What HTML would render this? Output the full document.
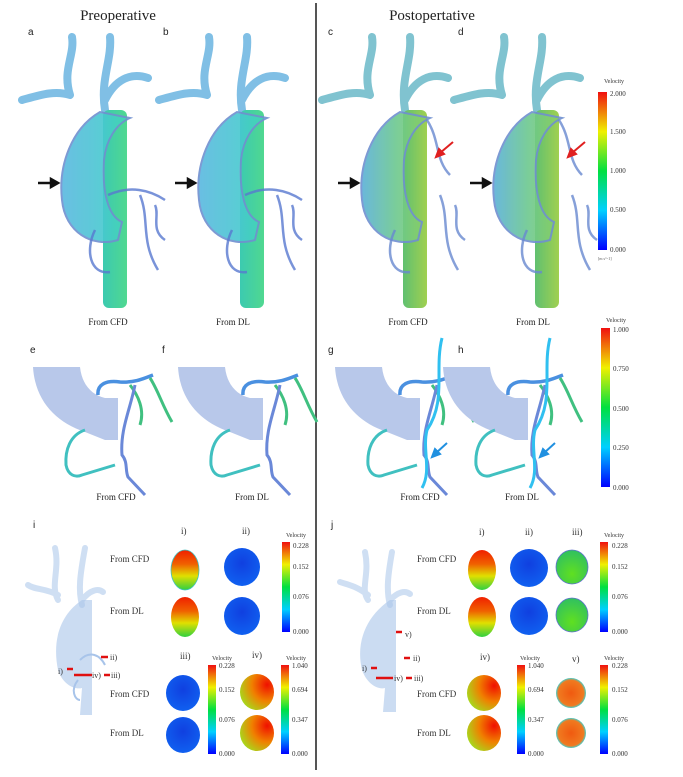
<!DOCTYPE html>
<html><head><meta charset="utf-8"><style>
html,body{margin:0;padding:0;background:#fff;}
svg{display:block;font-family:"Liberation Serif",serif;}
</style></head><body>
<svg width="683" height="777" viewBox="0 0 683 777" xmlns="http://www.w3.org/2000/svg">
<defs>
<linearGradient id="cb" x1="0" y1="1" x2="0" y2="0">
<stop offset="0" stop-color="#0000ff"/><stop offset="0.25" stop-color="#00d0ff"/><stop offset="0.5" stop-color="#00e040"/><stop offset="0.75" stop-color="#f0f000"/><stop offset="1" stop-color="#f01010"/></linearGradient>
<linearGradient id="preB" x1="0" y1="0" x2="1" y2="0"><stop offset="0" stop-color="#5ab8e0"/><stop offset="0.6" stop-color="#48c8d0"/><stop offset="1" stop-color="#40d8b0"/></linearGradient>
<linearGradient id="postB" x1="0" y1="0" x2="1" y2="0"><stop offset="0" stop-color="#5ab0d8"/><stop offset="0.5" stop-color="#6cc890"/><stop offset="1" stop-color="#8cd060"/></linearGradient>
<linearGradient id="tubeP" x1="0" y1="0" x2="1" y2="0"><stop offset="0" stop-color="#3ccab0"/><stop offset="1" stop-color="#50d890"/></linearGradient>
<linearGradient id="tubeQ" x1="0" y1="0" x2="1" y2="0"><stop offset="0" stop-color="#60c070"/><stop offset="1" stop-color="#a0d050"/></linearGradient>
<linearGradient id="sec1" x1="0" y1="0" x2="0" y2="1"><stop offset="0" stop-color="#f02000"/><stop offset="0.35" stop-color="#f06000"/><stop offset="0.65" stop-color="#e0e000"/><stop offset="1" stop-color="#30d040"/></linearGradient>
<radialGradient id="sec2" cx="0.5" cy="0.4" r="0.6"><stop offset="0" stop-color="#1040e0"/><stop offset="1" stop-color="#1060f0"/></radialGradient>
<radialGradient id="sec3" cx="0.5" cy="0.7" r="0.7"><stop offset="0" stop-color="#60e020"/><stop offset="1" stop-color="#30c060"/></radialGradient>
<radialGradient id="sec4" cx="0.8" cy="0.3" r="0.9"><stop offset="0" stop-color="#f01000"/><stop offset="0.5" stop-color="#f08000"/><stop offset="1" stop-color="#a0e020"/></radialGradient>
<radialGradient id="sec5" cx="0.5" cy="0.5" r="0.5"><stop offset="0" stop-color="#f05a10"/><stop offset="0.85" stop-color="#f07a20"/><stop offset="1" stop-color="#40d0d0"/></radialGradient>
<g id="aoPre">
<path d="M72,37 C75,55 62,70 70,95 M70,95 C55,90 40,95 22,100 M110,37 C112,60 100,80 105,110 M105,100 C115,80 130,72 148,78" fill="none" stroke="#6ab4e0" stroke-width="8" stroke-linecap="round" opacity="0.85"/>
<rect x="103" y="110" width="24" height="198" rx="6" fill="url(#tubeP)"/>
<path d="M100,112 C72,128 58,165 62,200 C65,232 92,248 118,240 L122,222 C108,216 102,192 104,160 C106,140 116,124 130,118 Z" fill="url(#preB)" stroke="#7090d0" stroke-width="2" opacity="0.9"/>
<path d="M108,195 C130,185 150,190 165,200 M140,195 C150,220 140,240 158,270 M95,230 C85,250 90,275 110,272 M155,205 C160,215 150,230 165,240" fill="none" stroke="#5878d0" stroke-width="2.5" opacity="0.8"/>
</g>
<g id="aoPost">
<path d="M72,37 C75,55 62,70 70,95 M70,95 C55,90 40,95 22,100 M110,37 C112,60 100,80 105,110 M105,100 C115,80 130,72 148,78" fill="none" stroke="#6ab8c8" stroke-width="8" stroke-linecap="round" opacity="0.85"/>
<rect x="103" y="110" width="24" height="198" rx="6" fill="url(#tubeQ)"/>
<path d="M100,112 C72,128 58,165 62,200 C65,232 92,248 118,240 L122,222 C108,216 102,192 104,160 C106,140 116,124 130,118 Z" fill="url(#postB)" stroke="#7090d0" stroke-width="2" opacity="0.9"/>
<path d="M127,120 C140,140 135,160 150,175 M140,195 C150,220 140,240 158,270 M95,230 C85,250 90,275 110,272 M155,205 C160,215 150,230 165,240" fill="none" stroke="#6888d0" stroke-width="2.5" opacity="0.8"/>
</g>
<g id="vesPre">
<path d="M33,367 L80,367 C82,385 92,395 105,398 L118,398 L118,440 L105,440 L85,432 C55,422 35,400 33,367 Z" fill="#b8c8ea"/>
<path d="M98,395 C97,385 105,380 120,382 C135,383 145,378 153,375" fill="none" stroke="#4a90e0" stroke-width="3.5"/>
<path d="M130,385 C138,395 145,410 140,425 M150,378 C158,390 162,405 172,422" fill="none" stroke="#40c080" stroke-width="3"/>
<path d="M135,385 C130,410 120,430 122,455 C128,462 125,470 128,477 L145,495" fill="none" stroke="#6a88d8" stroke-width="3"/>
<path d="M85,430 C70,435 65,450 66,465 C68,475 75,478 82,475 L115,465" fill="none" stroke="#40c0c0" stroke-width="3"/>
</g>
</defs>

<!-- headers -->
<text x="118" y="20" font-size="15" text-anchor="middle" fill="#222">Preoperative</text>
<text x="432" y="20" font-size="15" text-anchor="middle" fill="#222">Postopertative</text>
<line x1="316" y1="3" x2="316" y2="770" stroke="#555" stroke-width="2"/>
<g font-family="Liberation Sans,sans-serif" font-size="10" fill="#222">
<text x="28" y="35">a</text><text x="163" y="35">b</text><text x="328" y="35">c</text><text x="458" y="35">d</text>
<text x="30" y="353">e</text><text x="162" y="353">f</text><text x="328" y="353">g</text><text x="458" y="353">h</text>
<text x="33" y="528">i</text><text x="331" y="528">j</text>
</g>

<!-- top row aortas -->
<use href="#aoPre"/>
<use href="#aoPre" transform="translate(137,0)"/>
<use href="#aoPost" transform="translate(300,0)"/>
<use href="#aoPost" transform="translate(432,0)"/>
<g stroke="#111" stroke-width="2.5" fill="#111">
<line x1="38" y1="183" x2="53" y2="183"/><path d="M58,183 l-7,-4 v8z"/>
<line x1="175" y1="183" x2="190" y2="183"/><path d="M195,183 l-7,-4 v8z"/>
<line x1="338" y1="183" x2="353" y2="183"/><path d="M358,183 l-7,-4 v8z"/>
<line x1="470" y1="183" x2="485" y2="183"/><path d="M490,183 l-7,-4 v8z"/>
</g>
<g stroke="#e02020" stroke-width="2" fill="#e02020">
<line x1="453" y1="142" x2="440" y2="153"/><path d="M436,157 l3,-8 l5,5z"/>
<line x1="585" y1="142" x2="572" y2="153"/><path d="M568,157 l3,-8 l5,5z"/>
</g>
<g font-size="9" fill="#222" text-anchor="middle">
<text x="108" y="325">From CFD</text><text x="233" y="325">From DL</text>
<text x="408" y="325">From CFD</text><text x="533" y="325">From DL</text>
</g>
<!-- colorbar 1 -->
<text x="604" y="83" font-size="6" fill="#333">Velocity</text>
<rect x="598" y="92" width="9" height="158" fill="url(#cb)"/>
<g font-size="7" fill="#333"><text x="610" y="96">2.000</text><text x="610" y="134">1.500</text><text x="610" y="173">1.000</text><text x="610" y="212">0.500</text><text x="610" y="252">0.000</text></g>
<text x="598" y="260" font-size="4" fill="#555">[m s^-1]</text>

<!-- second row -->
<use href="#vesPre"/>
<use href="#vesPre" transform="translate(145,0)"/>
<use href="#vesPre" transform="translate(302,0)"/>
<use href="#vesPre" transform="translate(410,0)"/>
<path d="M442,338 C434,370 447,400 427,430 C422,450 432,470 422,488" fill="none" stroke="#30c0f0" stroke-width="3"/>
<path d="M550,338 C542,370 555,400 535,430 C530,450 540,470 530,488" fill="none" stroke="#30c0f0" stroke-width="3"/>
<g stroke="#2090e0" stroke-width="2" fill="#2090e0">
<line x1="447" y1="443" x2="436" y2="453"/><path d="M432,457 l3,-8 l5,5z"/>
<line x1="555" y1="443" x2="544" y2="453"/><path d="M540,457 l3,-8 l5,5z"/>
</g>
<g font-size="9" fill="#222" text-anchor="middle">
<text x="116" y="500">From CFD</text><text x="252" y="500">From DL</text>
<text x="420" y="500">From CFD</text><text x="522" y="500">From DL</text>
</g>
<text x="606" y="322" font-size="6" fill="#333">Velocity</text>
<rect x="601" y="328" width="9" height="159" fill="url(#cb)"/>
<g font-size="7" fill="#333"><text x="613" y="332">1.000</text><text x="613" y="371">0.750</text><text x="613" y="411">0.500</text><text x="613" y="450">0.250</text><text x="613" y="490">0.000</text></g>

<!-- bottom left small aorta -->
<g opacity="0.55" fill="none" stroke="#a8c4ea" stroke-width="6" stroke-linecap="round">
<path d="M55,548 C60,570 50,585 58,600 M85,548 C80,575 78,590 82,605 M58,595 C45,588 35,590 28,585 M82,600 C90,590 98,588 103,592"/>
</g>
<path d="M82,600 C60,615 52,640 58,670 C63,685 75,690 82,688 L80,715 L92,715 L92,600 Z" fill="#a8c4ea" opacity="0.6"/>
<path d="M80,660 C90,650 100,655 105,665 M78,680 C70,690 75,700 80,700" fill="none" stroke="#a8c4ea" stroke-width="2"/>
<g stroke="#e01010" stroke-width="2.5">
<line x1="101" y1="657" x2="108" y2="657"/><line x1="67" y1="669" x2="73" y2="669"/><line x1="74" y1="675" x2="92" y2="675"/><line x1="104" y1="675" x2="110" y2="675"/>
</g>
<g font-size="8" fill="#333"><text x="110" y="660">ii)</text><text x="58" y="674">i)</text><text x="92" y="678">iv)</text><text x="111" y="678">iii)</text></g>

<g font-size="9" fill="#333">
<text x="181" y="534">i)</text><text x="242" y="534">ii)</text>
<text x="110" y="562">From CFD</text><text x="110" y="614">From DL</text>
<text x="180" y="659">iii)</text><text x="252" y="658">iv)</text>
<text x="110" y="697">From CFD</text><text x="110" y="736">From DL</text>
</g>
<ellipse cx="185" cy="570" rx="14" ry="20" fill="url(#sec1)" stroke="#40c0c0" stroke-width="0.8"/>
<ellipse cx="185" cy="617" rx="14" ry="20" fill="url(#sec1)"/>
<ellipse cx="242" cy="567" rx="18" ry="19" fill="url(#sec2)"/>
<ellipse cx="242" cy="616" rx="18" ry="19" fill="url(#sec2)"/>
<ellipse cx="183" cy="693" rx="17" ry="18" fill="url(#sec2)"/>
<ellipse cx="183" cy="735" rx="17" ry="18" fill="url(#sec2)"/>
<ellipse cx="257" cy="692" rx="17" ry="18" fill="url(#sec4)"/>
<ellipse cx="257" cy="733" rx="17" ry="18" fill="url(#sec4)"/>
<g font-size="6" fill="#333"><text x="286" y="537">Velocity</text><text x="212" y="660">Velocity</text><text x="286" y="660">Velocity</text></g>
<rect x="282" y="542" width="8" height="90" fill="url(#cb)"/>
<rect x="208" y="665" width="8" height="89" fill="url(#cb)"/>
<rect x="281" y="665" width="8" height="89" fill="url(#cb)"/>
<g font-size="7" fill="#333">
<text x="293" y="548">0.228</text><text x="293" y="569">0.152</text><text x="293" y="599">0.076</text><text x="293" y="634">0.000</text>
<text x="219" y="668">0.228</text><text x="219" y="692">0.152</text><text x="219" y="722">0.076</text><text x="219" y="756">0.000</text>
<text x="292" y="668">1.040</text><text x="292" y="692">0.694</text><text x="292" y="722">0.347</text><text x="292" y="756">0.000</text>
</g>

<!-- bottom right small aorta -->
<g opacity="0.55" fill="none" stroke="#a8c4ea" stroke-width="6" stroke-linecap="round">
<path d="M365,552 C370,575 360,588 368,600 M392,552 C388,575 386,590 390,605 M368,595 C355,585 345,584 340,582 M390,600 C398,592 405,590 410,594"/>
</g>
<path d="M390,600 C368,615 355,640 362,670 C367,684 378,690 385,688 L383,712 L396,712 L396,600 Z" fill="#a8c4ea" opacity="0.6"/>
<g stroke="#e01010" stroke-width="2.5">
<line x1="396" y1="632" x2="402" y2="632"/><line x1="404" y1="658" x2="410" y2="658"/><line x1="371" y1="668" x2="377" y2="668"/><line x1="376" y1="678" x2="393" y2="678"/><line x1="406" y1="678" x2="412" y2="678"/>
</g>
<g font-size="8" fill="#333"><text x="405" y="637">v)</text><text x="413" y="661">ii)</text><text x="362" y="671">i)</text><text x="394" y="681">iv)</text><text x="414" y="681">iii)</text></g>

<g font-size="9" fill="#333">
<text x="479" y="535">i)</text><text x="525" y="535">ii)</text><text x="572" y="535">iii)</text>
<text x="417" y="562">From CFD</text><text x="417" y="614">From DL</text>
<text x="480" y="660">iv)</text><text x="572" y="662">v)</text>
<text x="417" y="697">From CFD</text><text x="417" y="736">From DL</text>
</g>
<ellipse cx="482" cy="570" rx="14" ry="20" fill="url(#sec1)"/>
<ellipse cx="482" cy="617" rx="14" ry="20" fill="url(#sec1)"/>
<ellipse cx="529" cy="568" rx="19" ry="19" fill="url(#sec2)"/>
<ellipse cx="529" cy="616" rx="19" ry="19" fill="url(#sec2)"/>
<ellipse cx="572" cy="567" rx="16" ry="17" fill="url(#sec3)" stroke="#6070d0" stroke-width="0.8"/>
<ellipse cx="572" cy="615" rx="16" ry="17" fill="url(#sec3)" stroke="#6070d0" stroke-width="0.8"/>
<ellipse cx="484" cy="693" rx="17" ry="18" fill="url(#sec4)"/>
<ellipse cx="484" cy="733" rx="17" ry="18" fill="url(#sec4)"/>
<circle cx="571" cy="693" r="15" fill="url(#sec5)"/>
<circle cx="571" cy="733" r="15" fill="url(#sec5)"/>
<g font-size="6" fill="#333"><text x="604" y="537">Velocity</text><text x="520" y="660">Velocity</text><text x="604" y="660">Velocity</text></g>
<rect x="600" y="542" width="8" height="90" fill="url(#cb)"/>
<rect x="517" y="665" width="8" height="89" fill="url(#cb)"/>
<rect x="600" y="665" width="8" height="89" fill="url(#cb)"/>
<g font-size="7" fill="#333">
<text x="612" y="548">0.228</text><text x="612" y="569">0.152</text><text x="612" y="599">0.076</text><text x="612" y="634">0.000</text>
<text x="528" y="668">1.040</text><text x="528" y="692">0.694</text><text x="528" y="722">0.347</text><text x="528" y="756">0.000</text>
<text x="612" y="668">0.228</text><text x="612" y="692">0.152</text><text x="612" y="722">0.076</text><text x="612" y="756">0.000</text>
</g>
</svg>
</body></html>
